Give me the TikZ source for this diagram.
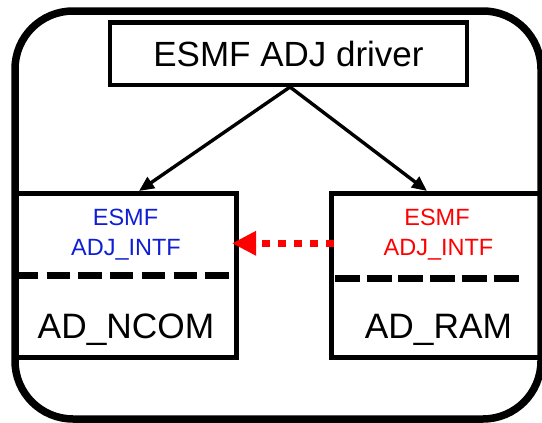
\documentclass[tikz,border=0pt]{standalone}
\usepackage{fontspec}
\setmainfont{Liberation Sans}
\usetikzlibrary{arrows.meta}
\definecolor{intfblue}{RGB}{15,30,210}
\definecolor{intfred}{RGB}{255,0,0}
\begin{document}
\begin{tikzpicture}[x=1pt,y=-1pt,
  frame/.style={draw,line width=7.5pt,rounded corners=58pt},
  box/.style={draw,line width=5pt,inner sep=0pt},
  call/.style={line width=3.4pt,-{Triangle[length=15pt,width=13pt]}},
  sep/.style={line width=7pt},
  intf/.style={font=\fontsize{23.5}{28}\selectfont,anchor=base},
  compname/.style={font=\fontsize{35.3}{40}\selectfont,anchor=base},
  link/.style={intfred,line width=7pt,dash pattern=on 8pt off 8pt,
    -{Triangle[length=24pt,width=23pt]}}]
\useasboundingbox (0,0) rectangle (542,423);
% enclosing frame
\draw[frame] (15,11) rectangle (541,419);
% driver and the two components
\node[box,line width=4.5pt,minimum width=357pt,minimum height=62.5pt] (drv) at (288.5,53.75)
  {\fontsize{35}{40}\selectfont ESMF ADJ driver};
\node[box,minimum width=221pt,minimum height=164pt] (ncom) at (125.5,275) {};
\node[box,minimum width=210pt,minimum height=164pt] (ram) at (436,275) {};
% interface labels
\node[intf,text=intfblue] (ncomesmf) at (125.5,225) {ESMF};
\node[intf,text=intfblue] (ncomintf) at (126,255) {ADJ\_INTF};
\node[intf,text=intfred] (ramesmf) at (437,225) {ESMF};
\node[intf,text=intfred] (ramintf) at (438.5,255) {ADJ\_INTF};
% component names
\node[compname] (ncomname) at (126,338) {AD\_NCOM};
\node[compname] (ramname) at (438.5,338) {AD\_RAM};
% dashed separators
\coordinate (ns1) at (15,275.5);
\coordinate (ns2) at (233,275.5);
\coordinate (rs1) at (335,278.5);
\coordinate (rs2) at (518.5,278.5);
\draw[sep,dash pattern=on 23.3pt off 8.4pt] (ns1) -- (ns2);
\draw[sep,dash pattern=on 25pt off 6.7pt] (rs1) -- (rs2);
% calls from the driver
\coordinate (fork) at (290,87);
\coordinate (tl) at (139,191);
\coordinate (tr) at (427,191);
\draw[call] (fork) -- (tl);
\draw[call] (fork) -- (tr);
% interface link
\coordinate (ls) at (334,243.3);
\coordinate (le) at (232,243.3);
\draw[link] (ls) -- (le);
\end{tikzpicture}
\end{document}
